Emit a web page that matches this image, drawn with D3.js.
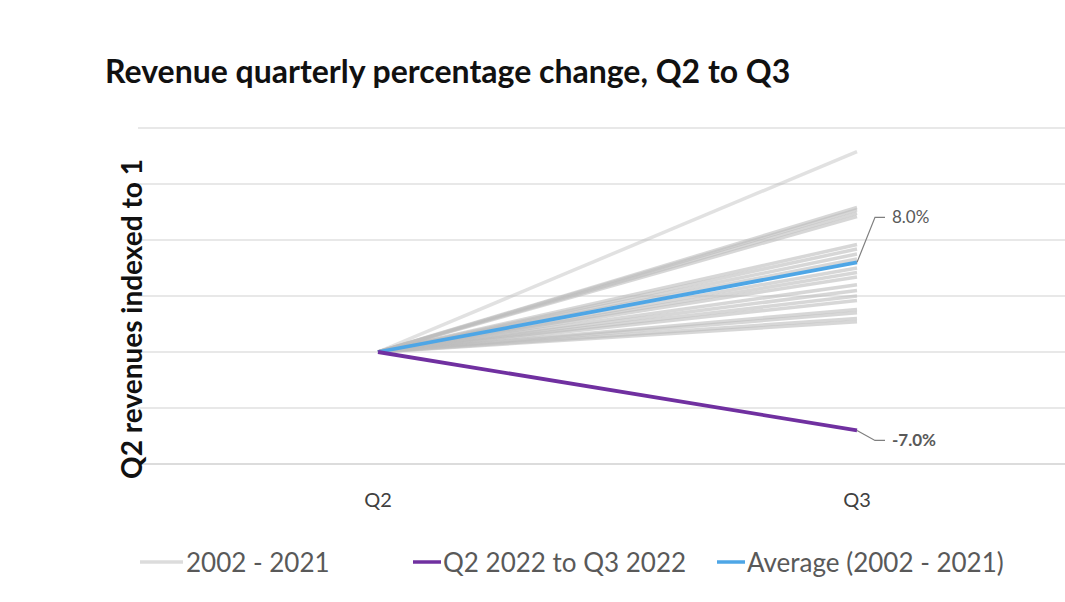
<!DOCTYPE html>
<html><head><meta charset="utf-8">
<script src="https://cdn.jsdelivr.net/npm/d3@7"></script>
<style>body{margin:0;background:#fff;} svg{display:block;}</style>
</head><body>
<svg id="c" width="1065" height="602"></svg>
<script>
const quarters = ["Q2", "Q3"];
const historicalChanges = [17.9, 12.9, 12.7, 12.4, 12.1, 9.6, 9.2, 8.75, 8.3, 7.5, 7.1, 6.7, 6.0, 5.5, 5.0, 4.6, 3.8, 3.5, 3.0, 2.7];
const change2022 = -7.0;
const averageChange = 8.0;
const yTicks = [0.90, 0.95, 1.00, 1.05, 1.10, 1.15, 1.20];
const legendLabels = ["2002 - 2021", "Q2 2022 to Q3 2022", "Average (2002 - 2021)"];
const colors = {hist: "#bdbdbd", y2022: "#7030a0", avg: "#4ea6e6"};

const svg = d3.select("#c");
const font = "Lato, 'Open Sans', sans-serif";
const x = d3.scalePoint().domain(quarters).range([378, 857]);
const y = d3.scaleLinear().domain([0.9, 1.2]).range([464, 128]);

// gridlines
svg.append("g").selectAll("line").data(yTicks).join("line")
  .attr("x1", 138).attr("x2", 1065)
  .attr("y1", d => y(d)).attr("y2", d => y(d))
  .attr("stroke", (d,i) => i === 0 ? "#d0d0d0" : "#e0e0e0").attr("stroke-width", 1.3);

const line = d3.line().x(d => x(d.q)).y(d => y(d.v));
const toPts = pct => [{q: "Q2", v: 1}, {q: "Q3", v: 1 + pct / 100}];

svg.append("g").selectAll("path").data(historicalChanges).join("path")
  .attr("d", d => line(toPts(d)))
  .attr("fill", "none").attr("stroke", colors.hist)
  .attr("stroke-opacity", (d,i) => i === 0 ? 0.45 : 0.6)
  .attr("stroke-width", 3.5);

svg.append("path").attr("d", line(toPts(averageChange)))
  .attr("fill", "none").attr("stroke", colors.avg).attr("stroke-width", 3.8);
svg.append("path").attr("d", line(toPts(change2022)))
  .attr("fill", "none").attr("stroke", colors.y2022).attr("stroke-width", 3.8);

// data labels with leader lines
function label(pct, dy, bold) {
  const px = x("Q3"), py = y(1 + pct / 100);
  svg.append("path")
    .attr("d", `M${px},${py} L${px + 18},${py + dy} L${px + 28},${py + dy}`)
    .attr("fill", "none").attr("stroke", "#7f7f7f").attr("stroke-width", 1.2);
  svg.append("text").attr("x", px + 35).attr("y", py + dy + 6)
    .attr("font-family", font).attr("font-size", 17)
    .attr("font-weight", bold ? "bold" : "normal")
    .attr("fill", "#595959").text(d3.format(".1f")(pct).replace("\u2212", "-") + "%");
}
label(averageChange, -45, false);
label(change2022, 10, true);

// x axis labels
svg.append("g").selectAll("text").data(quarters).join("text")
  .attr("x", d => x(d)).attr("y", 507).attr("text-anchor", "middle")
  .attr("font-family", font).attr("font-size", 20).attr("fill", "#404040").text(d => d);

// title
svg.append("text").attr("x", 105).attr("y", 83)
  .attr("font-family", font).attr("font-size", 32).attr("font-weight", "bold")
  .attr("fill", "#111").text("Revenue quarterly percentage change, Q2 to Q3");

// y title
svg.append("text").attr("transform", "translate(142,319) rotate(-90)")
  .attr("text-anchor", "middle").attr("font-family", font).attr("font-size", 28)
  .attr("font-weight", "bold").attr("fill", "#111").text("Q2 revenues indexed to 1");

// legend
const legendColors = [colors.hist, colors.y2022, colors.avg];
const legendX = [140, 413, 717];
const lg = svg.append("g").selectAll("g").data(legendLabels).join("g")
  .attr("transform", (d,i) => `translate(${legendX[i]},562)`);
lg.append("line").attr("x1", 0).attr("x2", (d,i) => i === 0 ? 43 : 28)
  .attr("stroke", (d,i) => i === 0 ? "#dcdcdc" : legendColors[i]).attr("stroke-width", 3.5);
lg.append("text").attr("x", (d,i) => i === 0 ? 46 : 30).attr("y", 10)
  .attr("font-family", font).attr("font-size", 26).attr("fill", "#595959").text(d => d);
</script>
</body></html>
